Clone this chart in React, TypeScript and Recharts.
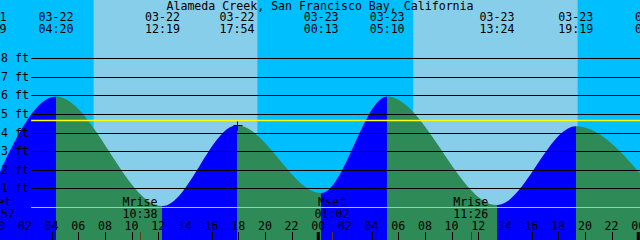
import React from 'react';
import { ComposedChart, Area, XAxis, YAxis, ReferenceArea, ReferenceLine, ReferenceDot } from 'recharts';

const TITLE = 'Alameda Creek, San Francisco Bay, California';

// Tide extremes (date label, time label, day offset from 03-22, height in ft)
const tideDates = ['03-21', '03-22', '03-22', '03-22', '03-23', '03-23', '03-23', '03-23', '03-24'];
const tideTimes = ['23:19', '04:20', '12:19', '17:54', '00:13', '05:10', '13:24', '19:19', '01:04'];
const tideDayOffset = [-1, 0, 0, 0, 1, 1, 1, 1, 2];
const tideHeights = [0.6, 5.95, 0.05, 4.4, 0.75, 5.95, 0.1, 4.35, 1.0];

// Sun (daylight bands)
const sunriseTimes = ['07:09', '07:07'];
const sunsetTimes = ['19:26', '19:27'];
const sunDayOffset = [0, 1];

// Moon events
const moonEvents = ['Mset', 'Mrise', 'Mset', 'Mrise'];
const moonTimes = ['23:57', '10:38', '01:02', '11:26'];
const moonDayOffset = [-1, 0, 1, 1];

// Axis ticks
const hourTicks = [0, 2, 4, 6, 8, 10, 12, 14, 16, 18, 20, 22, 24, 26, 28, 30, 32, 34, 36, 38, 40, 42, 44, 46, 48];
const heightTicks = [1, 2, 3, 4, 5, 6, 7, 8];
const referenceLevel = 4.66;
const markerDay = 0;
const markerTime = '17:54';
const markerHeight = 4.4;

const X_DOMAIN: [number, number] = [0.13, 48.13];
const Y_DOMAIN: [number, number] = [-1.78, 11.14];

const W = 640;
const H = 240;
const FONT = 'DejaVu Sans Mono';
const FS = 11.6;
const LINE_X0 = 31;

const toHours = (day: number, hhmm: string) => {
  const [hh, mm] = hhmm.split(':').map(Number);
  return day * 24 + hh + mm / 60;
};

const tideData = tideTimes.map((tm, i) => ({ t: toHours(tideDayOffset[i], tm), h: tideHeights[i] }));
const t0 = tideData[0].t;
const tN = tideData[tideData.length - 1].t;
const pct = (t: number) => `${((t - t0) / (tN - t0)) * 100}%`;

const BLUE = '#0000FF';
const GREEN = '#2E8B57';
const NIGHT = '#00BFFF';
const DAY = '#87CEEB';

const stops: React.ReactNode[] = [];
for (let i = 0; i < tideData.length - 1; i++) {
  const c = tideData[i + 1].h > tideData[i].h ? BLUE : GREEN;
  stops.push(<stop key={`a${i}`} offset={pct(tideData[i].t)} stopColor={c} />);
  stops.push(<stop key={`b${i}`} offset={pct(tideData[i + 1].t)} stopColor={c} />);
}

const crisp = (v: number) => Math.round(v) + 0.5;

export default function App() {
  return (
    <div style={{ position: 'fixed', left: 0, top: 0, width: W, height: H, background: NIGHT }}>
      <ComposedChart width={W} height={H} data={tideData} margin={{ top: 0, right: 0, bottom: 0, left: 0 }}>
        <defs>
          <linearGradient id="tideFill" x1="0" y1="0" x2="1" y2="0">
            {stops}
          </linearGradient>
        </defs>
        <XAxis type="number" dataKey="t" domain={X_DOMAIN} allowDataOverflow hide />
        <YAxis type="number" domain={Y_DOMAIN} allowDataOverflow hide />
        {sunriseTimes.map((sr, i) => (
          <ReferenceArea
            key={`day${i}`}
            x1={toHours(sunDayOffset[i], sr)}
            x2={toHours(sunDayOffset[i], sunsetTimes[i])}
            fill={DAY}
            fillOpacity={1}
            stroke="none"
            ifOverflow="visible"
          />
        ))}
        {heightTicks.map((v) => (
          <ReferenceLine
            key={`g${v}`}
            y={v}
            ifOverflow="visible"
            shape={(p: any) => (
              <line x1={LINE_X0} x2={W} y1={crisp(p.y1)} y2={crisp(p.y1)} stroke="#000" strokeWidth={1} />
            )}
          />
        ))}
        <Area
          type="monotone"
          dataKey="h"
          baseValue={Y_DOMAIN[0]}
          fill="url(#tideFill)"
          fillOpacity={1}
          stroke="none"
          isAnimationActive={false}
        />
        <ReferenceLine
          y={0}
          ifOverflow="visible"
          shape={(p: any) => (
            <line x1={LINE_X0} x2={W} y1={crisp(p.y1)} y2={crisp(p.y1)} stroke={DAY} strokeWidth={1} />
          )}
        />
        <ReferenceLine
          y={referenceLevel}
          ifOverflow="visible"
          shape={(p: any) => (
            <line x1={LINE_X0} x2={W} y1={crisp(p.y1)} y2={crisp(p.y1)} stroke="#FFFF00" strokeWidth={1.5} />
          )}
        />
        {heightTicks.map((v) => (
          <ReferenceLine
            key={`gl${v}`}
            y={v}
            ifOverflow="visible"
            shape={(p: any) => (
              <text x={1} y={p.y1 + 4} fontFamily={FONT} fontSize={FS} fill="#000">
                {`${v} ft`}
              </text>
            )}
          />
        ))}
        {tideData.map((d, i) => (
          <ReferenceLine
            key={`tl${i}`}
            x={d.t}
            ifOverflow="visible"
            shape={(p: any) => (
              <g>
                <text x={p.x1} y={21} textAnchor="middle" fontFamily={FONT} fontSize={FS} fill="#000">
                  {tideDates[i]}
                </text>
                <text x={p.x1} y={33} textAnchor="middle" fontFamily={FONT} fontSize={FS} fill="#000">
                  {tideTimes[i]}
                </text>
              </g>
            )}
          />
        ))}
        {moonEvents.map((ev, i) => (
          <ReferenceLine
            key={`m${i}`}
            x={toHours(moonDayOffset[i], moonTimes[i])}
            ifOverflow="visible"
            shape={(p: any) => (
              <g>
                <text x={p.x1} y={206} textAnchor="middle" fontFamily={FONT} fontSize={FS} fill="#000">
                  {ev}
                </text>
                <text x={p.x1} y={218} textAnchor="middle" fontFamily={FONT} fontSize={FS} fill="#000">
                  {moonTimes[i]}
                </text>
                <line x1={crisp(p.x1)} x2={crisp(p.x1)} y1={232} y2={H} stroke="#5A3A1A" strokeWidth={1} />
              </g>
            )}
          />
        ))}
        {hourTicks.map((hv) => (
          <ReferenceLine
            key={`h${hv}`}
            x={hv}
            ifOverflow="visible"
            shape={(p: any) => (
              <g>
                <text x={p.x1} y={230} textAnchor="middle" fontFamily={FONT} fontSize={FS} fill="#000">
                  {String(hv % 24).padStart(2, '0')}
                </text>
                <line
                  x1={hv % 24 === 0 ? p.x1 : crisp(p.x1)}
                  x2={hv % 24 === 0 ? p.x1 : crisp(p.x1)}
                  y1={232}
                  y2={H}
                  stroke="#000"
                  strokeWidth={hv % 24 === 0 ? 3 : 1}
                />
              </g>
            )}
          />
        ))}
        <ReferenceDot
          x={toHours(markerDay, markerTime)}
          y={markerHeight}
          ifOverflow="visible"
          shape={(p: any) => (
            <g stroke="#000" strokeWidth={1}>
              <line x1={crisp(p.cx) - 4} x2={crisp(p.cx) + 5} y1={crisp(p.cy)} y2={crisp(p.cy)} />
              <line x1={crisp(p.cx)} x2={crisp(p.cx)} y1={crisp(p.cy) - 4} y2={crisp(p.cy) + 5} />
            </g>
          )}
        />
        <ReferenceLine
          y={Y_DOMAIN[1]}
          ifOverflow="visible"
          shape={() => (
            <text x={W / 2} y={10} textAnchor="middle" fontFamily={FONT} fontSize={FS} fill="#000">
              {TITLE}
            </text>
          )}
        />
      </ComposedChart>
    </div>
  );
}
